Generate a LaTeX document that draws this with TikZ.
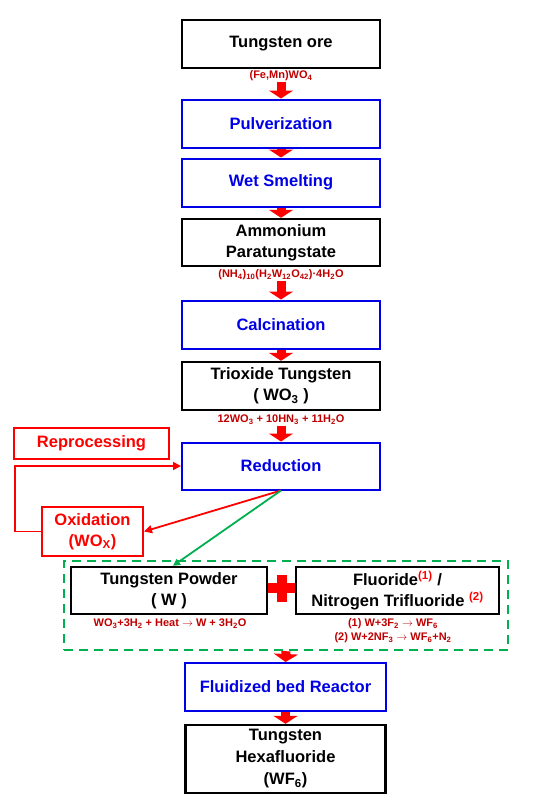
\documentclass[tikz,border=0pt]{standalone}
\usepackage{fontspec}
\setmainfont{Liberation Sans}
\usepackage{tikz}
\usetikzlibrary{arrows.meta, positioning}
\definecolor{rossoscuro}{RGB}{192,0,0}
\definecolor{rosso}{RGB}{255,0,0}
\definecolor{blu}{RGB}{0,0,230}
\definecolor{verde}{RGB}{0,176,80}
\newcommand{\pd}[1]{\textsubscript{#1}}
\newcommand{\apice}[1]{\textsuperscript{\color{rosso}#1}}
\newcommand{\freccia}{\ensuremath{\rightarrow}}

\begin{document}
\begin{tikzpicture}[x=1pt, y=-1pt,
    scatola/.style = {draw, line width=2.4pt, minimum width=198pt, minimum height=48pt,
                      align=center, inner sep=2pt, font=\bfseries\fontsize{16.5}{21}\selectfont},
    processo/.style = {scatola, draw=blu, text=blu, line width=2pt},
    ritorno/.style = {scatola, draw=rosso, text=rosso, line width=2pt},
    formula/.style = {text=rossoscuro, inner sep=1pt, align=center,
                      font=\bfseries\fontsize{11}{14}\selectfont},
    blocco/.style = {rosso, line width=9pt, -{Triangle[width=24pt,length=8pt]}}]
    % Parametri
    \pgfmathsetmacro{\xc}{281}
    \pgfmathsetmacro{\xd}{285.5}
    \fill[white] (0,0) rectangle (533,801);
    % Catena principale
    \node[scatola] (minerale) at (\xc,44) {Tungsten ore};
    \node[formula] (fMinerale) at (\xc,76) {(Fe,Mn)WO\pd{4}};
    \node[processo] (polv) at (\xc,123.5) {Pulverization};
    \node[processo] (fusione) at (\xc,182.5) {Wet Smelting};
    \node[scatola, minimum height=47pt] (apt) at (\xc,242.5) {Ammonium\\Paratungstate};
    \node[formula] (fApt) at (\xc,275) {(NH\pd{4})\pd{10}(H\pd{2}W\pd{12}O\pd{42})·4H\pd{2}O};
    \node[processo] (calc) at (\xc,324.5) {Calcination};
    \node[scatola] (triossido) at (\xc,386) {Trioxide Tungsten\\( WO\pd{3} )};
    \node[formula] (fTriossido) at (\xc,420) {12WO\pd{3} + 10HN\pd{3} + 11H\pd{2}O};
    \node[processo, minimum height=47pt] (riduz) at (\xc,466) {Reduction};
    % Ramo di ritorno
    \node[ritorno, minimum width=155pt, minimum height=31pt] (riproc) at (91.5,443.5) {Reprocessing};
    \node[ritorno, minimum width=101pt, minimum height=49pt] (ossid) at (92.5,531.5) {Oxidation\\(WO\pd{X})};
    % Reagenti
    \node[draw=verde, line width=2.4pt, dash pattern=on 9pt off 6pt,
          minimum width=444pt, minimum height=89pt] (gruppo) at (286,605.5) {};
    \node[scatola, minimum width=196pt, minimum height=47pt] (polvere) at (169,590.5) {Tungsten Powder\\( W )};
    \node[scatola, minimum width=203pt, minimum height=47pt] (fluoruro) at (397.5,590.5)
        {Fluoride\apice{(1)} /\\Nitrogen Trifluoride \apice{(2)}};
    \node[formula] (fPolvere) at (170,624) {WO\pd{3}+3H\pd{2} + Heat \freccia{} W + 3H\pd{2}O};
    \node[formula] (fFluoruro) at (393,631)
        {(1) W+3F\pd{2} \freccia{} WF\pd{6}\\(2) W+2NF\pd{3} \freccia{} WF\pd{6}+N\pd{2}};
    \fill[rosso] (268,583) rectangle (295,593);
    \fill[rosso] (277,575) rectangle (287,602);
    % Reattore e prodotto
    \node[processo, minimum width=201pt] (reattore) at (\xd,687) {Fluidized bed Reactor};
    \node[scatola, minimum width=200pt, minimum height=68pt, font=\bfseries\fontsize{16.5}{22}\selectfont]
        (esafluoruro) at (\xd,759) {Tungsten\\Hexafluoride\\(WF\pd{6})};
    % Frecce
    \draw[blocco] (fMinerale.south) -- (polv.north);
    \draw[blocco] (polv.south) -- (fusione.north);
    \draw[blocco] (fusione.south) -- (apt.north);
    \draw[blocco] (fApt.south) -- (calc.north);
    \draw[blocco] (calc.south) -- (triossido.north);
    \draw[blocco] (fTriossido.south) -- (riduz.north);
    \draw[blocco] (gruppo.south) -- (reattore.north);
    \draw[blocco] (reattore.south) -- (esafluoruro.north);
    \draw[rosso, line width=1.8pt, -{Triangle[width=8pt,length=8pt]}]
        (ossid.west) -- ++(-26,0) |- (riduz.west);
    \draw[rosso, line width=1.8pt, -{Triangle[width=8pt,length=8pt]}] (riduz.south) -- (ossid.east);
    \draw[verde, line width=1.8pt, -{Triangle[width=7pt,length=7pt]}] (riduz.south) -- ([xshift=4pt]polvere.north);
\end{tikzpicture}
\end{document}
